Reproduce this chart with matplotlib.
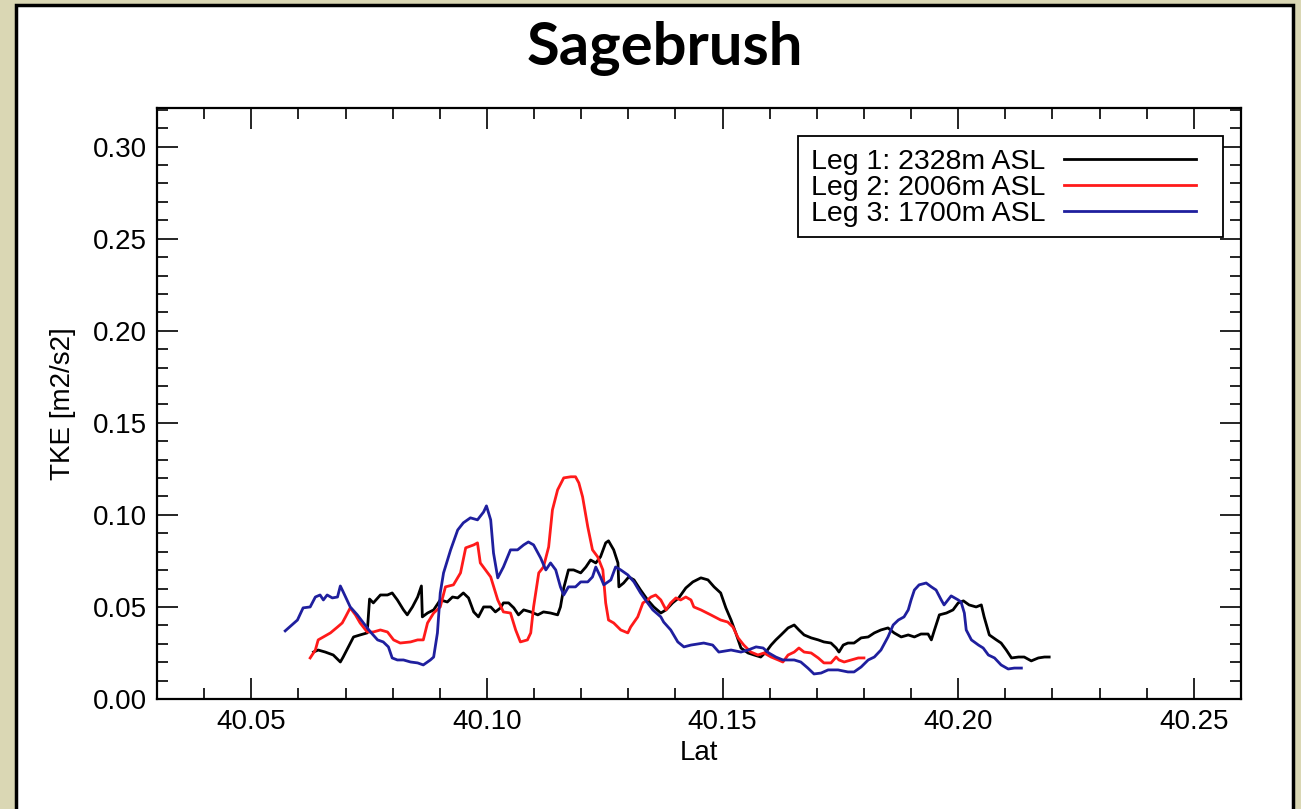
import matplotlib.pyplot as plt
from matplotlib.patches import Rectangle
from matplotlib.ticker import MultipleLocator, FormatStrFormatter

# Leg 1: 2328m ASL (black)
lat1 = [40.0632, 40.0642, 40.0657, 40.0674, 40.0689, 40.0695, 40.0706, 40.0717, 40.0731, 40.0746,
        40.0751, 40.0759, 40.0774, 40.0789, 40.0799, 40.0810, 40.0823, 40.0831, 40.0842, 40.0853,
        40.0861, 40.0863, 40.0874, 40.0887, 40.0901, 40.0916, 40.0927, 40.0938, 40.0950, 40.0961,
        40.0972, 40.0982, 40.0993, 40.1008, 40.1018, 40.1029, 40.1035, 40.1046, 40.1057, 40.1067,
        40.1078, 40.1093, 40.1108, 40.1120, 40.1135, 40.1150, 40.1156, 40.1163, 40.1173, 40.1184,
        40.1199, 40.1210, 40.1220, 40.1231, 40.1241, 40.1252, 40.1258, 40.1269, 40.1278, 40.1280,
        40.1290, 40.1301, 40.1312, 40.1326, 40.1341, 40.1354, 40.1369, 40.1380, 40.1394, 40.1407,
        40.1422, 40.1437, 40.1454, 40.1469, 40.1482, 40.1496, 40.1507, 40.1518, 40.1528, 40.1539,
        40.1554, 40.1567, 40.1581, 40.1592, 40.1603, 40.1613, 40.1624, 40.1639, 40.1652, 40.1662,
        40.1673, 40.1688, 40.1703, 40.1715, 40.1730, 40.1741, 40.1747, 40.1756, 40.1766, 40.1779,
        40.1794, 40.1809, 40.1822, 40.1836, 40.1851, 40.1864, 40.1879, 40.1894, 40.1907, 40.1921,
        40.1936, 40.1943, 40.1949, 40.1960, 40.1975, 40.1989, 40.2000, 40.2011, 40.2023, 40.2038,
        40.2049, 40.2055, 40.2066, 40.2081, 40.2091, 40.2102, 40.2113, 40.2128, 40.2140, 40.2155,
        40.2170, 40.2183, 40.2193]
tke1 = [0.0255, 0.0266, 0.0255, 0.0239, 0.0201, 0.0228, 0.0283, 0.0337, 0.0348, 0.0359,
        0.0543, 0.0522, 0.0565, 0.0565, 0.0576, 0.0538, 0.0484, 0.0457, 0.0500, 0.0554,
        0.0614, 0.0446, 0.0467, 0.0484, 0.0538, 0.0527, 0.0554, 0.0549, 0.0576, 0.0549,
        0.0473, 0.0446, 0.0500, 0.0500, 0.0473, 0.0495, 0.0522, 0.0522, 0.0495, 0.0457,
        0.0484, 0.0473, 0.0457, 0.0473, 0.0467, 0.0457, 0.0500, 0.0603, 0.0701, 0.0701,
        0.0685, 0.0717, 0.0755, 0.0739, 0.0772, 0.0848, 0.0859, 0.0810, 0.0739, 0.0609,
        0.0630, 0.0663, 0.0647, 0.0592, 0.0538, 0.0500, 0.0467, 0.0484, 0.0522, 0.0549,
        0.0603, 0.0636, 0.0658, 0.0647, 0.0609, 0.0576, 0.0495, 0.0429, 0.0359, 0.0277,
        0.0250, 0.0239, 0.0228, 0.0255, 0.0293, 0.0321, 0.0348, 0.0386, 0.0402, 0.0375,
        0.0348, 0.0332, 0.0321, 0.0310, 0.0304, 0.0277, 0.0255, 0.0293, 0.0304, 0.0304,
        0.0332, 0.0337, 0.0359, 0.0375, 0.0386, 0.0359, 0.0337, 0.0348, 0.0337, 0.0353,
        0.0353, 0.0321, 0.0370, 0.0457, 0.0467, 0.0484, 0.0522, 0.0533, 0.0511, 0.0500,
        0.0511, 0.0446, 0.0348, 0.0321, 0.0304, 0.0266, 0.0223, 0.0228, 0.0228, 0.0207,
        0.0223, 0.0228, 0.0228]

# Leg 2: 2006m ASL (red)
lat2 = [40.0625, 40.0636, 40.0642, 40.0653, 40.0668, 40.0683, 40.0693, 40.0700, 40.0710, 40.0721,
        40.0731, 40.0746, 40.0759, 40.0774, 40.0789, 40.0802, 40.0816, 40.0838, 40.0853, 40.0865,
        40.0874, 40.0887, 40.0901, 40.0912, 40.0929, 40.0944, 40.0955, 40.0972, 40.0980, 40.0986,
        40.1008, 40.1023, 40.1035, 40.1050, 40.1061, 40.1071, 40.1086, 40.1093, 40.1099, 40.1110,
        40.1120, 40.1131, 40.1139, 40.1150, 40.1163, 40.1178, 40.1188, 40.1195, 40.1203, 40.1214,
        40.1224, 40.1235, 40.1246, 40.1252, 40.1258, 40.1269, 40.1284, 40.1299, 40.1305, 40.1320,
        40.1331, 40.1341, 40.1348, 40.1358, 40.1369, 40.1380, 40.1390, 40.1401, 40.1411, 40.1422,
        40.1433, 40.1439, 40.1454, 40.1475, 40.1496, 40.1511, 40.1522, 40.1533, 40.1545, 40.1560,
        40.1575, 40.1588, 40.1603, 40.1618, 40.1628, 40.1639, 40.1652, 40.1662, 40.1673, 40.1688,
        40.1703, 40.1715, 40.1730, 40.1741, 40.1747, 40.1758, 40.1773, 40.1788, 40.1800]
tke2 = [0.0223, 0.0266, 0.0321, 0.0337, 0.0359, 0.0391, 0.0413, 0.0446, 0.0495, 0.0457,
        0.0413, 0.0364, 0.0364, 0.0375, 0.0364, 0.0321, 0.0304, 0.0310, 0.0321, 0.0321,
        0.0413, 0.0467, 0.0500, 0.0609, 0.0620, 0.0685, 0.0821, 0.0837, 0.0848, 0.0739,
        0.0663, 0.0538, 0.0473, 0.0467, 0.0375, 0.0310, 0.0321, 0.0359, 0.0500, 0.0685,
        0.0717, 0.0826, 0.1027, 0.1136, 0.1201, 0.1207, 0.1207, 0.1174, 0.1098, 0.0935,
        0.0810, 0.0772, 0.0701, 0.0522, 0.0429, 0.0413, 0.0375, 0.0359, 0.0391, 0.0446,
        0.0522, 0.0538, 0.0554, 0.0565, 0.0538, 0.0484, 0.0522, 0.0549, 0.0538, 0.0554,
        0.0538, 0.0500, 0.0484, 0.0457, 0.0429, 0.0418, 0.0391, 0.0332, 0.0293, 0.0255,
        0.0239, 0.0250, 0.0228, 0.0212, 0.0201, 0.0239, 0.0255, 0.0277, 0.0255, 0.0250,
        0.0223, 0.0196, 0.0196, 0.0228, 0.0212, 0.0201, 0.0212, 0.0223, 0.0223]

# Leg 3: 1700m ASL (blue)
lat3 = [40.0572, 40.0598, 40.0610, 40.0625, 40.0636, 40.0646, 40.0653, 40.0661, 40.0672, 40.0683,
        40.0689, 40.0695, 40.0710, 40.0725, 40.0738, 40.0753, 40.0768, 40.0780, 40.0791, 40.0799,
        40.0810, 40.0823, 40.0838, 40.0853, 40.0865, 40.0880, 40.0887, 40.0895, 40.0901, 40.0908,
        40.0923, 40.0938, 40.0950, 40.0965, 40.0980, 40.0993, 40.0999, 40.1008, 40.1014, 40.1023,
        40.1035, 40.1050, 40.1065, 40.1078, 40.1088, 40.1099, 40.1114, 40.1125, 40.1135, 40.1146,
        40.1156, 40.1163, 40.1173, 40.1188, 40.1199, 40.1214, 40.1224, 40.1231, 40.1241, 40.1248,
        40.1263, 40.1273, 40.1284, 40.1299, 40.1312, 40.1326, 40.1341, 40.1352, 40.1369, 40.1375,
        40.1390, 40.1405, 40.1418, 40.1433, 40.1460, 40.1479, 40.1492, 40.1518, 40.1539, 40.1554,
        40.1571, 40.1586, 40.1598, 40.1613, 40.1628, 40.1652, 40.1666, 40.1681, 40.1694, 40.1709,
        40.1724, 40.1745, 40.1766, 40.1779, 40.1794, 40.1809, 40.1822, 40.1836, 40.1851, 40.1862,
        40.1873, 40.1885, 40.1894, 40.1900, 40.1907, 40.1917, 40.1932, 40.1943, 40.1953, 40.1964,
        40.1970, 40.1985, 40.2000, 40.2006, 40.2013, 40.2017, 40.2028, 40.2043, 40.2053, 40.2064,
        40.2077, 40.2091, 40.2106, 40.2119, 40.2134]
tke3 = [0.0370, 0.0429, 0.0495, 0.0500, 0.0554, 0.0565, 0.0538, 0.0565, 0.0549, 0.0554,
        0.0614, 0.0582, 0.0500, 0.0457, 0.0413, 0.0364, 0.0321, 0.0310, 0.0283, 0.0223,
        0.0212, 0.0212, 0.0201, 0.0196, 0.0185, 0.0212, 0.0228, 0.0359, 0.0576, 0.0685,
        0.0810, 0.0918, 0.0957, 0.0984, 0.0973, 0.1016, 0.1049, 0.0973, 0.0793, 0.0658,
        0.0717, 0.0810, 0.0810, 0.0837, 0.0853, 0.0837, 0.0766, 0.0701, 0.0739, 0.0701,
        0.0609, 0.0565, 0.0609, 0.0609, 0.0636, 0.0636, 0.0663, 0.0717, 0.0663, 0.0620,
        0.0647, 0.0717, 0.0701, 0.0674, 0.0636, 0.0576, 0.0522, 0.0484, 0.0446, 0.0418,
        0.0375, 0.0310, 0.0283, 0.0293, 0.0304, 0.0293, 0.0255, 0.0266, 0.0255, 0.0266,
        0.0283, 0.0277, 0.0250, 0.0228, 0.0212, 0.0212, 0.0201, 0.0168, 0.0136, 0.0141,
        0.0158, 0.0158, 0.0147, 0.0147, 0.0174, 0.0212, 0.0228, 0.0266, 0.0337, 0.0402,
        0.0429, 0.0446, 0.0484, 0.0538, 0.0592, 0.0620, 0.0630, 0.0609, 0.0592, 0.0538,
        0.0511, 0.0560, 0.0538, 0.0527, 0.0467, 0.0375, 0.0321, 0.0293, 0.0277, 0.0239,
        0.0223, 0.0185, 0.0163, 0.0168, 0.0168]

labels = ['Leg 1: 2328m ASL', 'Leg 2: 2006m ASL', 'Leg 3: 1700m ASL']
colors = ['black', '#ff1a1a', '#1f1f9e']

plt.rcParams['font.family'] = ['Liberation Sans', 'DejaVu Sans']

fig = plt.figure(figsize=(13.01, 8.09), dpi=100)
fig.patch.set_facecolor('#dad7b4')
# white slide panel behind the plot
fig.patches.append(Rectangle((16 / 1301, -0.02), 1277 / 1301, 1.02 - 5 / 809,
                             transform=fig.transFigure, facecolor='white',
                             edgecolor='black', linewidth=2.5, zorder=-5))

ax = fig.add_axes([157 / 1301, 110 / 809, 1084 / 1301, 591 / 809])
ax.set_zorder(2)
for x, y, c, lab in zip([lat1, lat2, lat3], [tke1, tke2, tke3], colors, labels):
    ax.plot(x, y, color=c, lw=2.0, label=lab)

ax.set_xlim(40.03, 40.26)
ax.set_ylim(0.0, 0.321)
ax.xaxis.set_major_locator(MultipleLocator(0.05))
ax.xaxis.set_minor_locator(MultipleLocator(0.01))
ax.yaxis.set_major_locator(MultipleLocator(0.05))
ax.yaxis.set_minor_locator(MultipleLocator(0.01))
ax.xaxis.set_major_formatter(FormatStrFormatter('%.2f'))
ax.yaxis.set_major_formatter(FormatStrFormatter('%.2f'))
ax.tick_params(which='both', direction='in', top=True, right=True, labelsize=20, width=1.2)
ax.tick_params(which='major', length=15, pad=7)
ax.tick_params(which='minor', length=8)
for s in ax.spines.values():
    s.set_linewidth(1.6)

ax.set_xlabel('Lat', fontsize=20, labelpad=4)
ax.set_ylabel('TKE [m2/s2]', fontsize=20, labelpad=12)

# legend box drawn separately (IDL style: uneven padding)
ax.add_patch(Rectangle((0.5913, 0.7817), 0.3921, 0.1709, transform=ax.transAxes,
                       facecolor='white', edgecolor='black', linewidth=1.3, zorder=4))
leg = ax.legend(loc='upper right', bbox_to_anchor=(0.9585, 0.9306), borderaxespad=0,
                fontsize=20.5, markerfirst=False, handlelength=4.65, handletextpad=0.65,
                labelspacing=0.0, borderpad=0.0, frameon=False)
leg.set_zorder(5)

fig.text(665 / 1301, 1 - 49 / 809, 'Sagebrush', fontsize=43, fontweight='bold',
         family=['Lato', 'DejaVu Sans'], ha='center', va='center')

fig.savefig('out.png', dpi=100, facecolor=fig.get_facecolor())
